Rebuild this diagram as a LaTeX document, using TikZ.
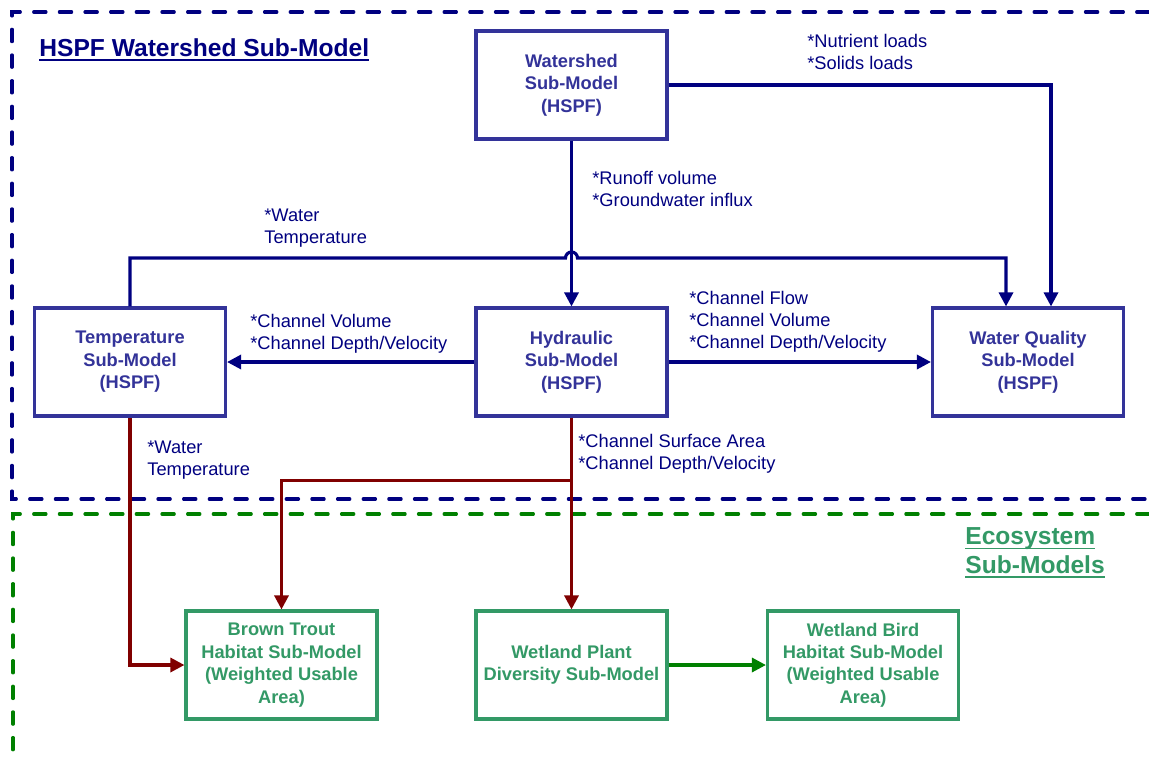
\documentclass[tikz,border=0pt]{standalone}
\usepackage{fontspec}
\setmainfont{Liberation Sans}
\usetikzlibrary{calc, positioning}
\usetikzlibrary{arrows.meta}

\definecolor{boxblue}{HTML}{333399}
\definecolor{navy}{HTML}{000080}
\definecolor{ecogreen}{HTML}{339966}
\definecolor{arrowgreen}{HTML}{008000}
\definecolor{darkred}{HTML}{800000}

\newsavebox{\ulsave}
\newcommand{\undertext}[1]{\sbox{\ulsave}{#1}\rlap{\rule[-2.6pt]{\wd\ulsave}{1.1pt}}\usebox{\ulsave}}

\tikzset{
  model/.style={draw=boxblue, line width=1.8pt, text=boxblue, fill=white,
    font=\fontsize{10.4}{12.8}\selectfont\bfseries, align=center,
    minimum width=3.82cm, minimum height=2.16cm, inner sep=2pt},
  eco/.style={model, draw=ecogreen, text=ecogreen},
  lbl/.style={text=navy, font=\fontsize{10.4}{12.5}\selectfont, align=left,
    anchor=base west, inner sep=0pt},
  heading/.style={font=\fontsize{14}{16}\selectfont\bfseries, align=left,
    anchor=base west, inner sep=0pt},
  flow/.style={draw=navy, line width=1.8pt, -{Triangle[length=8pt,width=8pt]}},
  feed/.style={flow, draw=darkred},
  zone/.style={line width=1.8pt, line cap=round, dash pattern=on 7pt off 7.6pt},
}

\begin{document}
\begin{tikzpicture}[x=0.02cm, y=-0.02cm]
\useasboundingbox (0,0) rectangle (1149,761);

% dashed regions
\draw[zone, navy] (1149,12) -- (12,12) -- (12,499) -- (1149,499);
\draw[zone, arrowgreen] (1149,514) -- (13,514) -- (13,761);

% base anchor sits on the last line
\node[heading, text=navy] (hspftitle) at (39,56) {\undertext{HSPF Watershed Sub-Model}};
\node[heading, text=ecogreen] (ecotitle) at (965,573) {\undertext{Ecosystem}\\\undertext{Sub-Models}};

% models
\node[model] (ws) at (571.5,85) {Watershed\\Sub-Model\\(HSPF)};
\node[model] (temp) at (130,362) {Temperature\\Sub-Model\\(HSPF)};
\node[model] (hyd) at (571.5,362) {Hydraulic\\Sub-Model\\(HSPF)};
\node[model] (wq) at (1028,362) {Water Quality\\Sub-Model\\(HSPF)};
\node[eco] (trout) at (281.5,665) {Brown Trout\\Habitat Sub-Model\\(Weighted Usable\\Area)};
\node[eco] (plant) at (571.5,665) {Wetland Plant\\Diversity Sub-Model};
\node[eco] (bird) at (863,665) {Wetland Bird\\Habitat Sub-Model\\(Weighted Usable\\Area)};

% connectors
\coordinate (hop) at (hyd.north |- 0,258);
\coordinate (split) at ($(hyd.south)+(0,63)$);
\draw[flow] (ws.south) -- (hyd.north);
\draw[flow] (ws.east) -| ($(wq.north)+(23,0)$);
\draw[flow] (temp.north) |- ($(hop)+(-6,0)$) arc[start angle=180, end angle=360, radius=6]
  -| ($(wq.north)+(-22,0)$);
\draw[flow] (hyd.west) -- (temp.east);
\draw[flow] (hyd.east) -- (wq.west);
\draw[feed] (temp.south) |- (trout.west);
\draw[feed] (hyd.south) -- (plant.north);
\draw[feed] (split) -| (trout.north);
\draw[flow, draw=arrowgreen] (plant.east) -- (bird.west);

% labels
\node[lbl] (nutlbl) at (807,69) {*Nutrient loads\\*Solids loads};
\node[lbl] (runlbl) at (592,206) {*Runoff volume\\*Groundwater influx};
\node[lbl] (wtlbl) at (264,243) {*Water\\Temperature};
\node[lbl] (cvlbl) at (250,349) {*Channel Volume\\*Channel Depth/Velocity};
\node[lbl] (cflbl) at (689,348) {*Channel Flow\\*Channel Volume\\*Channel Depth/Velocity};
\node[lbl] (wtlbltwo) at (147,475) {*Water\\Temperature};
\node[lbl] (csalbl) at (578,469) {*Channel Surface Area\\*Channel Depth/Velocity};
\end{tikzpicture}
\end{document}
